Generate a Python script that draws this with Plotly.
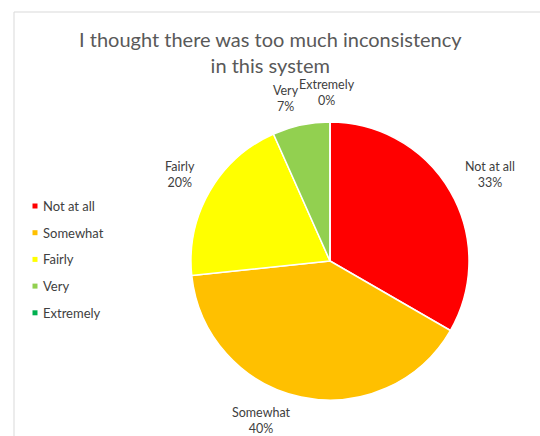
import math
import plotly.graph_objects as go

# Survey responses
categories = ["Not at all", "Somewhat", "Fairly", "Very", "Extremely"]
counts = [5, 6, 3, 1, 0]
colors = ["#FF0000", "#FFC000", "#FFFF00", "#92D050", "#00B050"]

W, H = 540, 436
FONT = "Lato, Calibri, sans-serif"
TEXT = "#404040"

# Pie geometry in pixels
cx, cy, R = 330, 261, 139
# Outside-label placement (distance as multiple of radius, angular nudge in degrees)
label_dist = [1.31, 1.245, 1.245, 1.21, 1.21]
label_nudge = [1.7, 11.2, 0, -3, -1]

fig = go.Figure()

fig.add_trace(go.Pie(
    labels=categories,
    values=counts,
    marker=dict(colors=colors, line=dict(color="white", width=1.5)),
    sort=False,
    direction="clockwise",
    rotation=0,
    textinfo="none",
    hoverinfo="label+percent",
    showlegend=False,
    domain=dict(x=[(cx - R) / W, (cx + R) / W],
                y=[(H - cy - R) / H, (H - cy + R) / H]),
))

total = sum(counts)
annotations = []
cum = 0.0
for cat, v, d, nudge in zip(categories, counts, label_dist, label_nudge):
    frac = v / total
    mid = (cum + frac / 2) * 360 + nudge
    cum += frac
    a = math.radians(mid)
    px = cx + d * R * math.sin(a)
    py = cy - d * R * math.cos(a)
    annotations.append(dict(
        x=px / W, y=(H - py) / H, xref="paper", yref="paper",
        xanchor="center", yanchor="middle",
        text=f"{cat}<br>{round(frac * 100)}%",
        showarrow=False, align="center",
        font=dict(family=FONT, size=12.5, color=TEXT),
    ))

# Title
annotations.append(dict(
    x=270 / W, y=(H - 52) / H, xref="paper", yref="paper",
    xanchor="center", yanchor="middle",
    text="I thought there was too much inconsistency<br>in this system",
    showarrow=False, align="center",
    font=dict(family=FONT, size=20, color="#595959"),
))

# Legend on the left
shapes = []
leg_x, leg_y0, leg_step = 35, 206, 26.7
for i, (cat, col) in enumerate(zip(categories, colors)):
    y = leg_y0 + i * leg_step
    shapes.append(dict(type="rect", xref="paper", yref="paper",
                       x0=(leg_x - 2.5) / W, x1=(leg_x + 2.5) / W,
                       y0=(H - y - 2.5) / H, y1=(H - y + 2.5) / H,
                       fillcolor=col, line=dict(width=0)))
    annotations.append(dict(
        x=(leg_x + 6) / W, y=(H - y) / H, xref="paper", yref="paper",
        text=cat, showarrow=False, xanchor="left", yanchor="middle",
        font=dict(family=FONT, size=13, color=TEXT),
    ))

# Chart-area frame
shapes.append(dict(type="rect", xref="paper", yref="paper",
                   x0=14 / W, x1=1.02, y0=-0.02, y1=(H - 12) / H,
                   line=dict(color="#D9D9D9", width=1), fillcolor="rgba(0,0,0,0)"))

fig.update_layout(
    width=W, height=H,
    margin=dict(l=0, r=0, t=0, b=0),
    paper_bgcolor="white",
    plot_bgcolor="white",
    annotations=annotations,
    shapes=shapes,
)

fig.write_html("out.html")
